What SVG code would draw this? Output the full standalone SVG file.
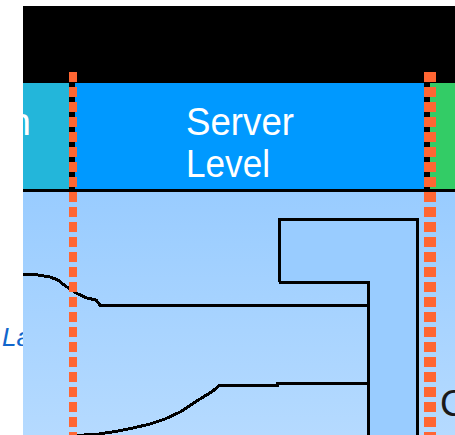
<svg xmlns="http://www.w3.org/2000/svg" width="455" height="435" viewBox="0 0 455 435">
  <defs>
    <linearGradient id="bodyFill" x1="0" y1="192" x2="0" y2="435" gradientUnits="userSpaceOnUse">
      <stop offset="0" stop-color="#99CCFF"/>
      <stop offset="1" stop-color="#B5DAFF"/>
    </linearGradient>
    <clipPath id="cyanCell">
      <rect x="23" y="83" width="46" height="106"/>
    </clipPath>
  </defs>
  <style>
    .label { font-family: "Liberation Sans", Arial, sans-serif; }
    .wire { fill: none; stroke: #000; stroke-width: 3; stroke-linejoin: miter; shape-rendering: crispEdges; }
    .lane { fill: none; stroke: #FF6633; stroke-dasharray: 10 5; }
  </style>

  <rect x="0" y="0" width="455" height="435" fill="#FFFFFF"/>

  <!-- label partly hidden behind the lane body -->
  <text class="label" x="2" y="346" font-size="26" font-style="italic" fill="#1166CC">La</text>

  <!-- header band -->
  <g id="header">
    <rect x="23" y="6" width="432" height="77" fill="#000"/>
    <rect x="23" y="83" width="432" height="106" fill="#000"/>
  </g>
  <g id="cell-left">
    <rect x="23" y="83" width="46" height="106" fill="#23B6DA"/>
    <text class="label" x="31" y="135" font-size="39" fill="#FFFFFF" text-anchor="end" clip-path="url(#cyanCell)">n</text>
  </g>
  <g id="cell-server">
    <rect x="75" y="83" width="349" height="106" fill="#0099FF"/>
    <text class="label" x="186" y="135" font-size="39" fill="#FFFFFF" textLength="108" lengthAdjust="spacingAndGlyphs">Server</text>
    <text class="label" x="186" y="177" font-size="39" fill="#FFFFFF" textLength="84" lengthAdjust="spacingAndGlyphs">Level</text>
  </g>
  <g id="cell-right">
    <rect x="430" y="83" width="25" height="106" fill="#33CC66"/>
  </g>
  <rect x="23" y="189" width="432" height="3" fill="#000"/>

  <!-- lane body -->
  <g id="body">
    <rect x="23" y="192" width="432" height="243" fill="url(#bodyFill)"/>
    <path d="M280,219 H417 V435 H369 V282 H280 Z" fill="#99CCFF"/>
  </g>

  <text class="label" x="440" y="416" font-size="37" fill="#1A1A1A">C</text>

  <!-- connectors -->
  <g id="connectors">
    <path class="wire" d="M279,282 V219.5 H417.5 V435"/>
    <path class="wire" d="M279,282 H368.5 V435"/>
    <path class="wire" d="M23,274 L38,275 L50,277 L58,280 L64,285 L70,289 L78,294 L87,298 L96,300 L100,305 H368.5"/>
    <path class="wire" d="M70,436 L99,434 L118,431 L133,428 L150,424 L165,419 L180,412 L200,399 L213,391 L219,385.5 H277 V383.5 H368.5"/>
  </g>

  <!-- lane dividers -->
  <g id="dividers">
    <line class="lane" x1="73" y1="72" x2="73" y2="435" stroke-width="8"/>
    <line class="lane" x1="430" y1="72" x2="430" y2="435" stroke-width="12"/>
  </g>
</svg>
